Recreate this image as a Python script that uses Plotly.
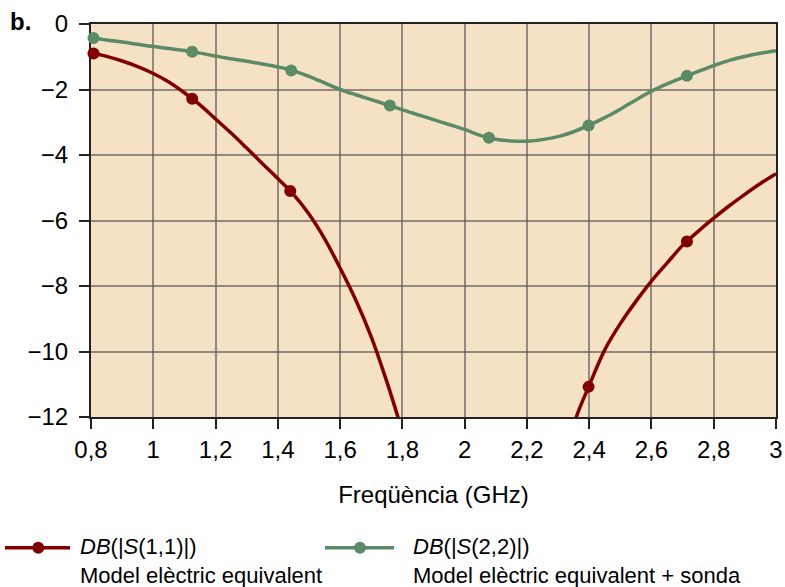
import plotly.graph_objects as go

# ---- data ----
freq = [0.80, 0.85, 0.90, 0.95, 1.00, 1.05, 1.10, 1.15, 1.20, 1.25, 1.30, 1.35,
        1.40, 1.45, 1.50, 1.55, 1.60, 1.65, 1.70, 1.75, 1.80, 1.85, 1.90, 1.95,
        2.00, 2.05, 2.10, 2.15, 2.20, 2.25, 2.30, 2.35, 2.40, 2.45, 2.50, 2.55,
        2.60, 2.65, 2.70, 2.75, 2.80, 2.85, 2.90, 2.95, 3.00]
s11_db = [-0.88, -0.99, -1.13, -1.30, -1.51, -1.77, -2.10, -2.47, -2.90, -3.33, -3.79, -4.26,
          -4.72, -5.20, -5.80, -6.55, -7.45, -8.42, -9.55, -10.92, -12.45, -14.1, -15.8, -17.3,
          -18.6, -19.5, -19.9, -19.6, -18.6, -16.9, -14.6, -12.25, -11.04, -9.95, -9.15, -8.47,
          -7.85, -7.30, -6.76, -6.33, -5.93, -5.55, -5.20, -4.87, -4.57]
s22_db = [-0.42, -0.49, -0.55, -0.62, -0.69, -0.75, -0.81, -0.89, -0.98, -1.06, -1.14, -1.22,
          -1.31, -1.43, -1.60, -1.80, -2.00, -2.16, -2.31, -2.46, -2.62, -2.77, -2.92, -3.07,
          -3.22, -3.40, -3.52, -3.57, -3.58, -3.53, -3.44, -3.29, -3.09, -2.86, -2.60, -2.32,
          -2.05, -1.83, -1.64, -1.45, -1.27, -1.11, -0.99, -0.895, -0.82]

marker_freq_s11 = [0.808, 1.125, 1.440, 2.398, 2.714]
marker_s11 = [-0.90, -2.28, -5.10, -11.08, -6.64]
marker_freq_s22 = [0.808, 1.125, 1.443, 1.760, 2.078, 2.398, 2.714]
marker_s22 = [-0.43, -0.85, -1.42, -2.49, -3.47, -3.10, -1.58]

x_tickvals = [0.8, 1.0, 1.2, 1.4, 1.6, 1.8, 2.0, 2.2, 2.4, 2.6, 2.8, 3.0]
x_ticktext = ["0,8", "1", "1,2", "1,4", "1,6", "1,8", "2", "2,2", "2,4", "2,6", "2,8", "3"]
y_tickvals = [0, -2, -4, -6, -8, -10, -12]
y_ticktext = ["0", "\u22122", "\u22124", "\u22126", "\u22128", "\u221210", "\u221212"]

legend1 = "<i>DB</i>(|<i>S</i>(1,1)|)<br>Model elèctric equivalent"
legend2 = "<i>DB</i>(|<i>S</i>(2,2)|)<br>Model elèctric equivalent + sonda"
x_title = "Freqüència (GHz)"
panel_label = "<b>b.</b>"

RED = "#800000"
GREEN = "#5A8A66"
BG = "#F5E1C3"
GRID = "rgba(80,80,80,0.6)"
FONT = "Liberation Sans, Arial, sans-serif"

fig = go.Figure()
fig.add_trace(go.Scatter(x=freq, y=s11_db, mode="lines", line=dict(color=RED, width=3.5, shape="spline"),
                         name="DB(|S(1,1)|)", showlegend=False, hoverinfo="skip"))
fig.add_trace(go.Scatter(x=freq, y=s22_db, mode="lines", line=dict(color=GREEN, width=3.5, shape="spline"),
                         name="DB(|S(2,2)|)", showlegend=False, hoverinfo="skip"))
fig.add_trace(go.Scatter(x=marker_freq_s11, y=marker_s11, mode="markers", cliponaxis=False,
                         marker=dict(color=RED, size=12), showlegend=False))
fig.add_trace(go.Scatter(x=marker_freq_s22, y=marker_s22, mode="markers", cliponaxis=False,
                         marker=dict(color=GREEN, size=12), showlegend=False))

axis_common = dict(showgrid=True, gridcolor=GRID, gridwidth=2, zeroline=False,
                   showline=True, linecolor="#222222", linewidth=2, mirror=True,
                   ticks="outside", ticklen=10, tickwidth=2, tickcolor="#222222", automargin=False,
                   tickfont=dict(family=FONT, size=24, color="black"), layer="below traces")

fig.update_xaxes(range=[0.8, 3.0], tickvals=x_tickvals, ticktext=x_ticktext,
                 title=dict(text=x_title, font=dict(family=FONT, size=24, color="black"), standoff=24),
                 **axis_common)
fig.update_yaxes(range=[-12, 0], tickvals=y_tickvals, ticktext=y_ticktext,
                 ticklabelstandoff=6, **axis_common)

shapes = []
annotations = []
for x0, x1, xc, color, xtxt, txt in [(-86, -21, -52.7, RED, -13, legend1),
                                     (234, 303, 269, GREEN, 319.7, legend2)]:
    shapes.append(dict(type="line", xref="paper", yref="paper", xsizemode="pixel", ysizemode="pixel",
                       xanchor=0, yanchor=0, x0=x0, x1=x1, y0=-130.7, y1=-130.7,
                       line=dict(color=color, width=3.5)))
    shapes.append(dict(type="circle", xref="paper", yref="paper", xsizemode="pixel", ysizemode="pixel",
                       xanchor=0, yanchor=0, x0=xc - 6, x1=xc + 6, y0=-136.7, y1=-124.7,
                       fillcolor=color, line=dict(color=color, width=0)))
    annotations.append(dict(text=txt, xref="paper", yref="paper", x=0, y=0, xshift=xtxt, yshift=-144,
                            xanchor="left", yanchor="middle", align="left", showarrow=False,
                            font=dict(family=FONT, size=22, color="black")))

annotations.append(dict(text=panel_label, xref="paper", yref="paper", x=0, y=1, xshift=-83, yshift=3,
                        xanchor="left", yanchor="middle", showarrow=False,
                        font=dict(family=FONT, size=24, color="black")))

fig.update_layout(width=785, height=587, margin=dict(l=91, r=9, t=24, b=170),
                  plot_bgcolor=BG, paper_bgcolor="white", shapes=shapes, annotations=annotations,
                  showlegend=False)

fig.write_html("out.html")
